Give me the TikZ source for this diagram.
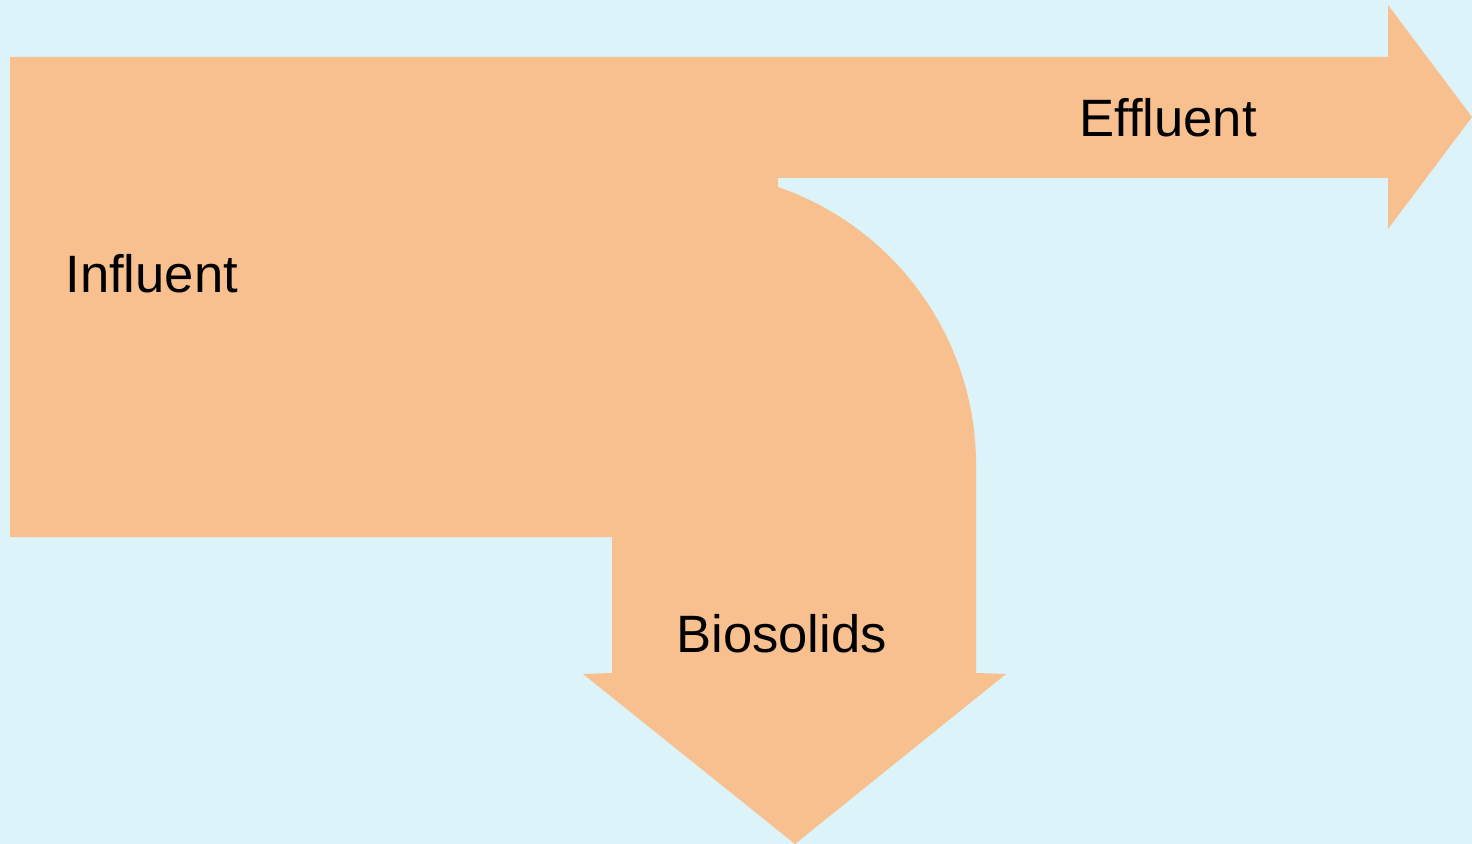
\documentclass[tikz,border=0pt]{standalone}
\usepackage{fontspec}
\setmainfont{Liberation Sans}
\definecolor{bgcyan}{RGB}{219,243,249}
\definecolor{flow}{RGB}{249,192,143}
\tikzset{
  lbl/.style={anchor=base west, inner sep=0pt, font=\fontsize{26.3}{31}\selectfont, text=black},
}
\begin{document}
\begin{tikzpicture}[x=0.5pt,y=-0.5pt]
\fill[bgcyan] (0,0) rectangle (1472,844);
\useasboundingbox (0,0) rectangle (1472,844);
\fill[flow] (10,57) -- (1388,57) -- (1388,5) -- (1472,117) -- (1388,229) -- (1388,178)
  -- (778,178) -- (778,187) arc[start angle=-70.95, end angle=0, radius=294]
  -- (976,673) -- (1006,674) -- (795,844) -- (583,674) -- (612,673) -- (612,537)
  -- (10,537) -- cycle;
\node[lbl] (influent) at (65,293) {Influent};
\node[lbl] (effluent) at (1079,137) {Effluent};
\node[lbl] (biosolids) at (676,652) {Biosolids};
\end{tikzpicture}
\end{document}
